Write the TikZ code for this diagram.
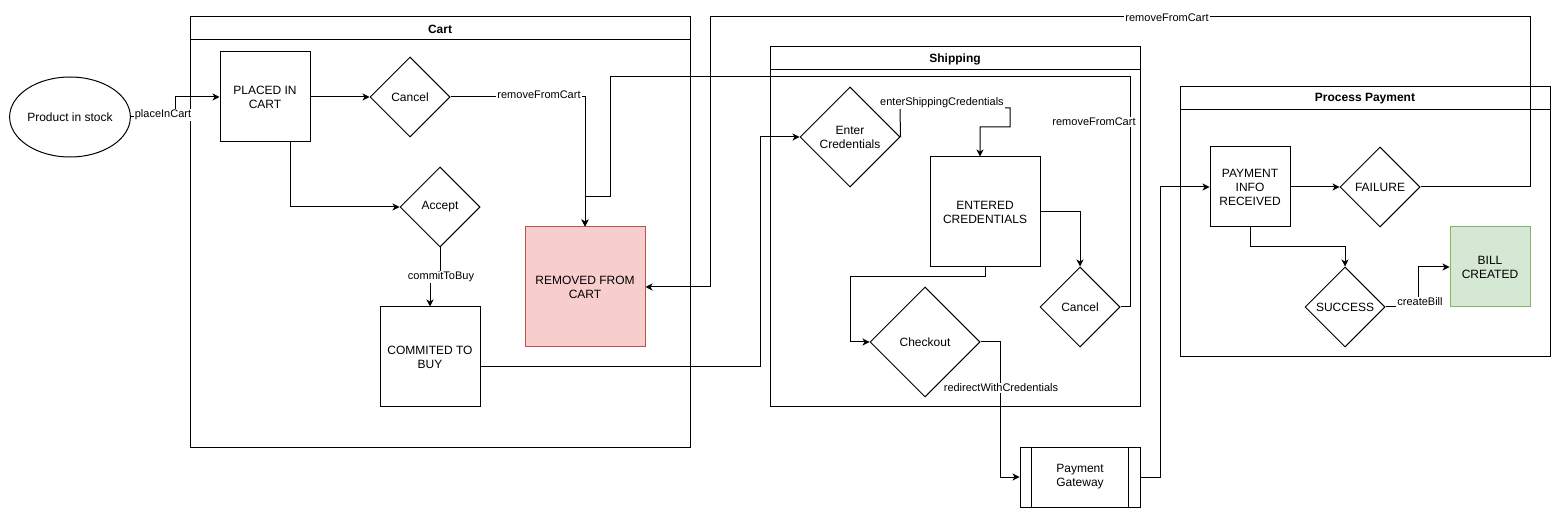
\documentclass[tikz,border=0pt]{standalone}
\usepackage{fontspec}
\setmainfont{Liberation Sans}
\usetikzlibrary{shapes.geometric,arrows.meta}
\definecolor{pinkfill}{HTML}{F8CECC}
\definecolor{pinkline}{HTML}{B85450}
\definecolor{greenfill}{HTML}{D5E8D4}
\definecolor{greenline}{HTML}{82B366}
\begin{document}
\begin{tikzpicture}[x=1pt,y=-1pt,line width=1pt,
  nfont/.style={font=\fontsize{12}{14}\selectfont},
  box/.style={draw,rectangle,inner sep=0pt,align=center,nfont},
  dia/.style={draw,diamond,aspect=1,inner sep=0pt,align=center,nfont},
  lane/.style={draw,rectangle,inner sep=0pt},
  lanetitle/.style={font=\fontsize{12}{14}\selectfont\bfseries,inner sep=0pt},
  lbl/.style={fill=white,inner sep=1pt,font=\fontsize{11}{13}\selectfont},
  arr/.style={-{Stealth[length=7pt,width=7pt,inset=2pt]}}
]
\useasboundingbox (0,0) rectangle (1561,518);
\fill[white] (0,0) rectangle (1561,518);

% lanes
\node[lane,minimum width=500pt,minimum height=430pt] (cart) at (440,232) {};
\draw ([yshift=-23pt]cart.north west) -- ([yshift=-23pt]cart.north east);
\node[lanetitle] (cartT) at (440,29) {Cart};

\node[lane,minimum width=370pt,minimum height=360pt] (ship) at (955,227) {};
\draw ([yshift=-23pt]ship.north west) -- ([yshift=-23pt]ship.north east);
\node[lanetitle] (shipT) at (955,59) {Shipping};

\node[lane,minimum width=370pt,minimum height=270pt] (pay) at (1365,222) {};
\draw ([yshift=-23pt]pay.north west) -- ([yshift=-23pt]pay.north east);
\node[lanetitle] (payT) at (1365,99) {Process Payment};

% nodes
\node[draw,ellipse,minimum width=120pt,minimum height=80pt,inner sep=0pt,nfont] (ps) at (70,117) {Product in stock};
\node[box,minimum width=90pt,minimum height=90pt] (pic) at (265,97) {PLACED IN\\CART};
\node[dia,minimum width=80pt,minimum height=80pt] (c1) at (410,97) {Cancel};
\node[dia,minimum width=80pt,minimum height=80pt] (acc) at (440,207) {Accept};
\node[box,minimum width=100pt,minimum height=100pt] (com) at (430,357) {COMMITED TO\\BUY};
\node[box,draw=pinkline,fill=pinkfill,minimum width=120pt,minimum height=120pt] (rem) at (585,287) {REMOVED FROM\\CART};

\node[dia,minimum width=100pt,minimum height=100pt] (ec) at (850,137) {Enter\\Credentials};
\node[box,minimum width=110pt,minimum height=110pt] (ent) at (985,212) {ENTERED\\CREDENTIALS};
\node[dia,minimum width=80pt,minimum height=80pt] (cs) at (1080,307) {Cancel};
\node[dia,minimum width=110pt,minimum height=110pt] (co) at (925,342) {Checkout};
\node[box,minimum width=120pt,minimum height=60pt] (pg) at (1080,477) {Payment\\Gateway};
\draw ([xshift=12pt]pg.north west) -- ([xshift=12pt]pg.south west);
\draw ([xshift=-12pt]pg.north east) -- ([xshift=-12pt]pg.south east);

\node[box,minimum width=80pt,minimum height=80pt] (pir) at (1250,187) {PAYMENT\\INFO\\RECEIVED};
\node[dia,minimum width=80pt,minimum height=80pt] (fail) at (1380,187) {FAILURE};
\node[box,draw=greenline,fill=greenfill,minimum width=80pt,minimum height=80pt] (bill) at (1490,267) {BILL\\CREATED};
\node[dia,minimum width=80pt,minimum height=80pt] (suc) at (1345,307) {SUCCESS};

% connectors
\draw[arr] (ps.east) -- (175,117) |- (pic.west);
\draw[arr] (pic.east) -- (c1.west);
\draw[arr] (c1.east) -| (rem.north);
\draw[arr] ([xshift=25pt]pic.south) |- (acc.west);
\draw[arr] (acc.south) -- (440,277) -| (com.north);
\draw[arr] ([yshift=-10pt]com.east) -- (760,367) |- (ec.west);
\draw[arr] (ec.east) -- (900,108) -- (1010,108) -- (1010,127) -| ([xshift=-5pt]ent.north);
\draw[arr] (ent.east) -| (cs.north);
\draw[arr] (ent.south) -- (985,277) -- (850,277) |- (co.west);
\draw[arr] (cs.east) -- (1130,307) -- (1130,77) -- (610,77) -- (610,197) -- (585,197) -- (rem.north);
\draw[arr] (co.east) -- (1000,342) |- (pg.west);
\draw[arr] (pg.east) -- (1160,477) |- (pir.west);
\draw[arr] (pir.east) -- (fail.west);
\draw[arr] (fail.east) -- (1530,187) -- (1530,17) -- (710,17) |- (rem.east);
\draw[arr] (pir.south) -- (1250,247) -| (suc.north);
\draw[arr] (suc.east) -- (1418,307) |- (bill.west);

% labels
\node[lbl] (l1) at (163,115) {placeInCart};
\node[lbl] (l2) at (539,95) {removeFromCart};
\node[lbl] (l3) at (441,277) {commitToBuy};
\node[lbl] (l4) at (942,103) {enterShippingCredentials};
\node[lbl] (l5) at (1094,122) {removeFromCart};
\node[lbl] (l6) at (1001,388) {redirectWithCredentials};
\node[lbl] (l7) at (1167,18) {removeFromCart};
\node[lbl] (l8) at (1420,302) {createBill};
\end{tikzpicture}
\end{document}
